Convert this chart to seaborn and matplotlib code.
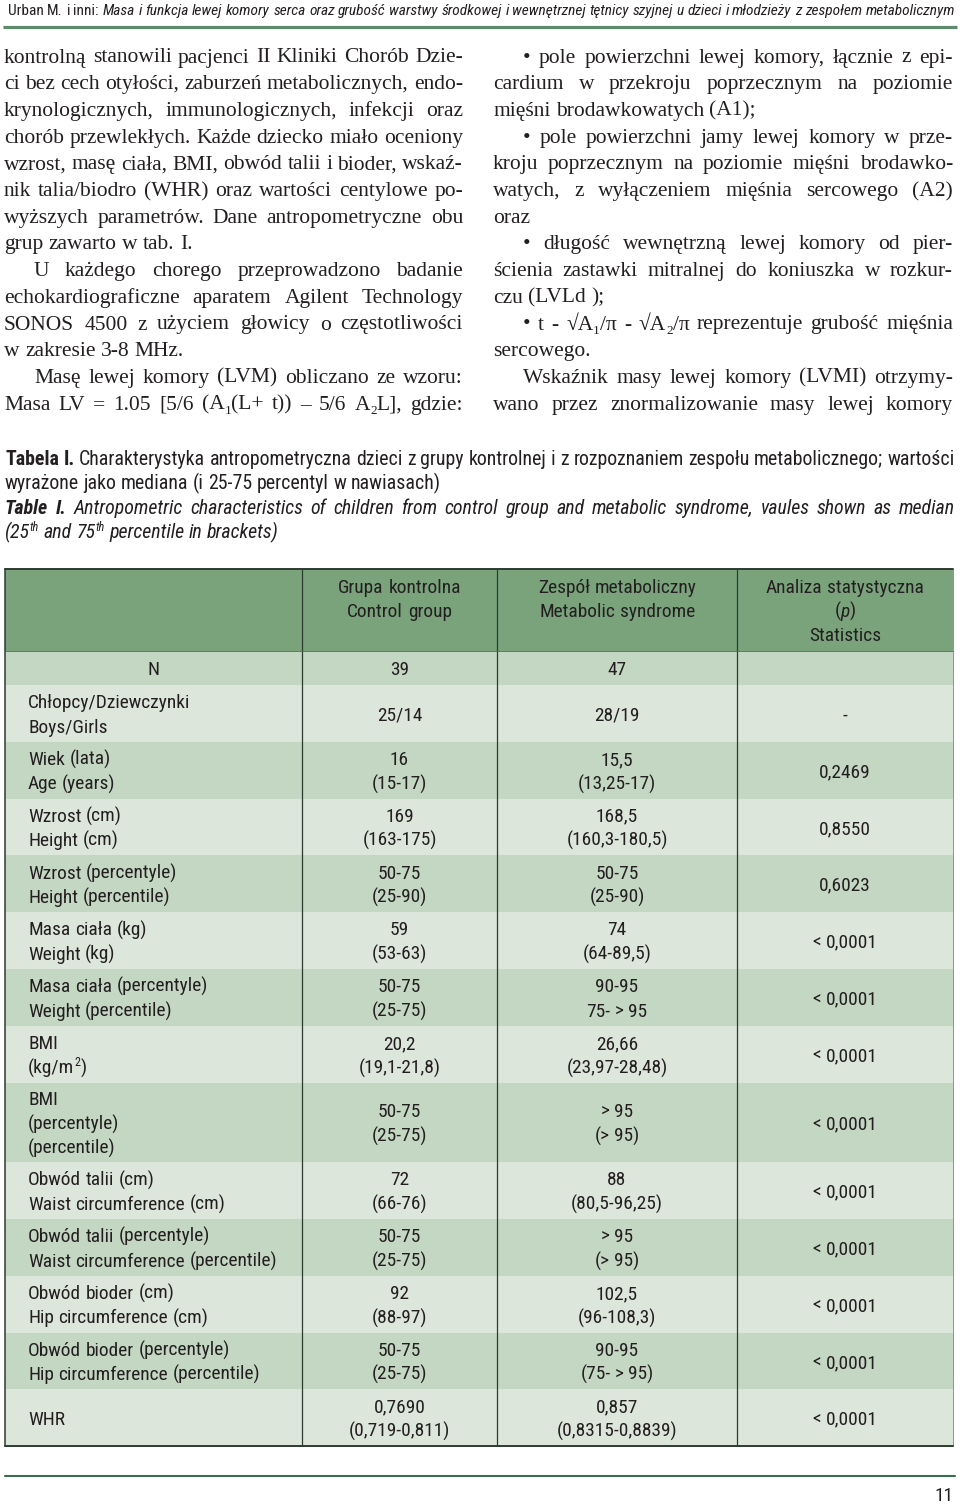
import re
import matplotlib
matplotlib.use("Agg")
import matplotlib.pyplot as plt
from matplotlib import font_manager as fm
from matplotlib.font_manager import FontProperties
from matplotlib.patches import Rectangle
import seaborn as sns

# ---- page text -------------------------------------------------------------
head_author = "Urban M. i inni: "
head_title = ("Masa i funkcja lewej komory serca oraz grubość warstwy środkowej "
              "i wewnętrznej tętnicy szyjnej u dzieci i młodzieży z zespołem metabolicznym")

# (text, indented, justified)
left_col = [
    ("kontrolną stanowili pacjenci II Kliniki Chorób Dzie-", 0, True),
    ("ci bez cech otyłości, zaburzeń metabolicznych, endo-", 0, True),
    ("krynologicznych, immunologicznych, infekcji oraz", 0, True),
    ("chorób przewlekłych. Każde dziecko miało oceniony", 0, True),
    ("wzrost, masę ciała, BMI, obwód talii i bioder, wskaź-", 0, True),
    ("nik talia/biodro (WHR) oraz wartości centylowe po-", 0, True),
    ("wyższych parametrów. Dane antropometryczne obu", 0, True),
    ("grup zawarto w tab. I.", 0, False),
    ("U każdego chorego przeprowadzono badanie", 1, True),
    ("echokardiograficzne aparatem Agilent Technology", 0, True),
    ("SONOS 4500 z użyciem głowicy o częstotliwości", 0, True),
    ("w zakresie 3-8 MHz.", 0, False),
    ("Masę lewej komory (LVM) obliczano ze wzoru:", 1, True),
    ("Masa LV = 1.05 [5/6 (A_{1}(L+ t)) – 5/6 A_{2}L], gdzie:", 0, True),
]
right_col = [
    ("• pole powierzchni lewej komory, łącznie z epi-", 1, True),
    ("cardium w przekroju poprzecznym na poziomie", 0, True),
    ("mięśni brodawkowatych (A1);", 0, False),
    ("• pole powierzchni jamy lewej komory w prze-", 1, True),
    ("kroju poprzecznym na poziomie mięśni brodawko-", 0, True),
    ("watych, z wyłączeniem mięśnia sercowego (A2)", 0, True),
    ("oraz", 0, False),
    ("• długość wewnętrzną lewej komory od pier-", 1, True),
    ("ścienia zastawki mitralnej do koniuszka w rozkur-", 0, True),
    ("czu (LVLd );", 0, False),
    ("• t - √A_{1}/π - √A_{2}/π reprezentuje grubość mięśnia", 1, True),
    ("sercowego.", 0, False),
    ("Wskaźnik masy lewej komory (LVMI) otrzymy-", 1, True),
    ("wano przez znormalizowanie masy lewej komory", 0, True),
]

caption = [
    ([("Tabela I.", "bold"),
      (" Charakterystyka antropometryczna dzieci z grupy kontrolnej i z rozpoznaniem "
       "zespołu metabolicznego; wartości", "normal")], True),
    ([("wyrażone jako mediana (i 25-75 percentyl w nawiasach)", "normal")], False),
    ([("Table I.", "bolditalic"),
      (" Antropometric characteristics of children from control group and metabolic "
       "syndrome, vaules shown as median", "italic")], True),
    ([("(25^{th} and 75^{th} percentile in brackets)", "italic")], False),
]

# ---- table data ------------------------------------------------------------
col_control = ["Grupa kontrolna", "Control group"]
col_metabolic = ["Zespół metaboliczny", "Metabolic syndrome"]
col_stats = ["Analiza statystyczna", "(|p|)", "Statistics"]

row_labels = [
    ["N"],
    ["Chłopcy/Dziewczynki", "Boys/Girls"],
    ["Wiek (lata)", "Age (years)"],
    ["Wzrost (cm)", "Height (cm)"],
    ["Wzrost (percentyle)", "Height (percentile)"],
    ["Masa ciała (kg)", "Weight (kg)"],
    ["Masa ciała (percentyle)", "Weight (percentile)"],
    ["BMI", "(kg/m^{2})"],
    ["BMI", "(percentyle)", "(percentile)"],
    ["Obwód talii (cm)", "Waist circumference (cm)"],
    ["Obwód talii (percentyle)", "Waist circumference (percentile)"],
    ["Obwód bioder (cm)", "Hip circumference (cm)"],
    ["Obwód bioder (percentyle)", "Hip circumference (percentile)"],
    ["WHR"],
]
control = [
    ["39"], ["25/14"], ["16", "(15-17)"], ["169", "(163-175)"], ["50-75", "(25-90)"],
    ["59", "(53-63)"], ["50-75", "(25-75)"], ["20,2", "(19,1-21,8)"], ["50-75", "(25-75)"],
    ["72", "(66-76)"], ["50-75", "(25-75)"], ["92", "(88-97)"], ["50-75", "(25-75)"],
    ["0,7690", "(0,719-0,811)"],
]
metabolic = [
    ["47"], ["28/19"], ["15,5", "(13,25-17)"], ["168,5", "(160,3-180,5)"], ["50-75", "(25-90)"],
    ["74", "(64-89,5)"], ["90-95", "75- > 95"], ["26,66", "(23,97-28,48)"], ["> 95", "(> 95)"],
    ["88", "(80,5-96,25)"], ["> 95", "(> 95)"], ["102,5", "(96-108,3)"], ["90-95", "(75- > 95)"],
    ["0,857", "(0,8315-0,8839)"],
]
p_values = ["", "-", "0,2469", "0,8550", "0,6023", "< 0,0001", "< 0,0001", "< 0,0001",
            "< 0,0001", "< 0,0001", "< 0,0001", "< 0,0001", "< 0,0001", "< 0,0001"]

# ---- style -----------------------------------------------------------------
sns.set_theme(style="white")
SERIF = ["Liberation Serif", "DejaVu Serif"]
plt.rcParams["font.family"] = SERIF

# pick a narrow sans if one is installed
fonts = [(f.name, str(f.stretch)) for f in fm.fontManager.ttflist]
names = {n for n, _ in fonts}
NARROW, STRETCH = ["Liberation Sans", "DejaVu Sans"], "normal"
for cand in ["Liberation Sans Narrow", "Roboto Condensed", "Noto Sans Condensed",
             "Open Sans Condensed", "DejaVu Sans Condensed"]:
    if cand in names:
        NARROW, STRETCH = [cand, "DejaVu Sans"], "normal"
        break
else:
    for fam in ["Noto Sans", "Roboto", "Open Sans", "DejaVu Sans"]:
        if (fam, "condensed") in fonts:
            NARROW, STRETCH = [fam, "DejaVu Sans"], "condensed"
            break

INK = "#231f20"
HEAD_GREEN = "#7aa37c"
ROW_DARK = "#c4d7c2"
ROW_LIGHT = "#dde6db"
RULE = "#5f8a6e"
shades = sns.color_palette([ROW_DARK, ROW_LIGHT])

DPI = 100
fig = plt.figure(figsize=(9.6, 15.05), dpi=DPI)
ax = fig.add_axes([0, 0, 1, 1])
ax.set_xlim(0, 960)
ax.set_ylim(1505, 0)
ax.axis("off")
renderer = fig.canvas.get_renderer()


def fprop(family, style="normal", size=15):
    return FontProperties(family=family, size=size,
                          stretch=STRETCH if family is NARROW else "normal",
                          weight="bold" if "bold" in style else "normal",
                          style="italic" if "italic" in style else "normal")


def width(s, fp):
    return renderer.get_text_width_height_descent(s, fp, ismath=False)[0]


def fit_size(text, style, target, ref=15):
    return ref * target / width(text, fprop(NARROW, style, ref))


def parse(part, fp):
    out = []
    for tok in re.split(r"(_\{[^}]*\}|\^\{[^}]*\}|\|[^|]*\|)", part):
        if not tok:
            continue
        px = fp.get_size_in_points() * DPI / 72
        if tok.startswith("_{"):
            f = fp.copy(); f.set_size(fp.get_size_in_points() * 0.62)
            out.append((tok[2:-1], f, 0.22 * px))
        elif tok.startswith("^{"):
            f = fp.copy(); f.set_size(fp.get_size_in_points() * 0.62)
            out.append((tok[2:-1], f, -0.38 * px))
        elif tok.startswith("|"):
            f = fp.copy(); f.set_style("italic")
            out.append((tok[1:-1], f, 0.0))
        else:
            out.append((tok, fp, 0.0))
    return out


def to_words(runs):
    words = [[]]
    for text, fp in runs:
        for k, part in enumerate(text.split(" ")):
            if k:
                words.append([])
            words[-1].extend(parse(part, fp))
    return [w for w in words if w]


def measure(runs):
    words = to_words(runs)
    ws = [sum(width(s, f) for s, f, _ in w) for w in words]
    fp0 = runs[-1][1]
    space = width("a a", fp0) - width("aa", fp0)
    return words, ws, space


def draw_line(runs, x0, x1, y, mode="left"):
    words, ws, space = measure(runs)
    total = sum(ws) + space * (len(words) - 1)
    gap, x = space, x0
    if mode == "justify" and len(words) > 1:
        gap = max((x1 - x0 - sum(ws)) / (len(words) - 1), space * 0.6)
    elif mode == "center":
        x = (x0 + x1) / 2 - total / 2
    elif mode == "right":
        x = x1 - total
    for w, wd in zip(words, ws):
        xx = x
        for s, f, dy in w:
            ax.text(xx, y + dy, s, fontproperties=f, color=INK, ha="left", va="baseline")
            xx += width(s, f)
        x += wd + gap


# ---- running head ----------------------------------------------------------
def head_runs(size):
    return [(head_author, fprop(NARROW, size=size)),
            (head_title, fprop(NARROW, "italic", size))]


_, ws, sp = measure(head_runs(12))
hsize = 12 * 944 / (sum(ws) + sp * (len(ws) - 1))
draw_line(head_runs(hsize), 8, 952, 15, "left")
ax.plot([3, 957], [27, 27], color=RULE, lw=2.3, solid_capstyle="butt")

# ---- two text columns ------------------------------------------------------
body = fprop(SERIF, size=15.5)
for col, (x0, x1) in [(left_col, (4, 463)), (right_col, (493, 953))]:
    for i, (txt, ind, just) in enumerate(col):
        y = 62.5 + 26.7 * i
        draw_line([(txt, body)], x0 + 30 * ind, x1, y, "justify" if just else "left")

# ---- caption ---------------------------------------------------------------
csize = fit_size("wyrażone jako mediana (i 25-75 percentyl w nawiasach)", "normal", 436)
for i, (runs, just) in enumerate(caption):
    rr = [(t, fprop(NARROW, st, csize)) for t, st in runs]
    draw_line(rr, 5, 955, 465 + 24.4 * i, "justify" if just else "left")

# ---- table -----------------------------------------------------------------
edges = [5, 302, 497, 737, 953]
tsize = fit_size("Waist circumference (percentile)", "normal", 250)
cell = fprop(NARROW, size=tsize)
top, head_bot = 569, 651
ax.add_patch(Rectangle((edges[0], top), edges[-1] - edges[0], head_bot - top,
                       facecolor=HEAD_GREEN, lw=0))
for j, lines in enumerate([col_control, col_metabolic, col_stats]):
    for k, t in enumerate(lines):
        draw_line([(t, cell)], edges[j + 1], edges[j + 2], 593 + 24.2 * k, "center")

y = head_bot
for r in range(len(row_labels)):
    n = max(len(row_labels[r]), len(control[r]), len(metabolic[r]))
    h = 34 + 22.8 * (n - 1)
    ax.add_patch(Rectangle((edges[0], y), edges[-1] - edges[0], h,
                           facecolor=shades[r % 2], lw=0))
    mid = y + h / 2
    cols = [row_labels[r], control[r], metabolic[r], [p_values[r]] if p_values[r] else []]
    for j, lines in enumerate(cols):
        for k, t in enumerate(lines):
            yy = mid + (k - (len(lines) - 1) / 2) * 24.4 + 7
            if j == 0 and r > 0:
                draw_line([(t, cell)], 28, edges[1], yy, "left")
            else:
                draw_line([(t, cell)], edges[j], edges[j + 1], yy, "center")
    y += h
bottom = y

for x in edges[1:-1]:
    ax.plot([x, x], [top, bottom], color="#2f3b30", lw=0.9)
ax.plot([edges[0], edges[0]], [top, bottom], color="#2f3b30", lw=1.1)
ax.plot([edges[-1], edges[-1]], [top, bottom], color="#8a9a8a", lw=0.7)
ax.plot([edges[0], edges[-1]], [top, top], color="#2f3b30", lw=1.4)
ax.plot([edges[0], edges[-1]], [head_bot, head_bot], color="#4f6b51", lw=0.6)
ax.plot([edges[0], edges[-1]], [bottom, bottom], color="#2f3b30", lw=1.4)

# ---- footer ----------------------------------------------------------------
ax.plot([5, 955], [1476, 1476], color="#3d6b50", lw=1.5)
draw_line([("11", fprop(NARROW, size=tsize))], 900, 954, 1501, "right")

fig.savefig("out.png", dpi=DPI)
